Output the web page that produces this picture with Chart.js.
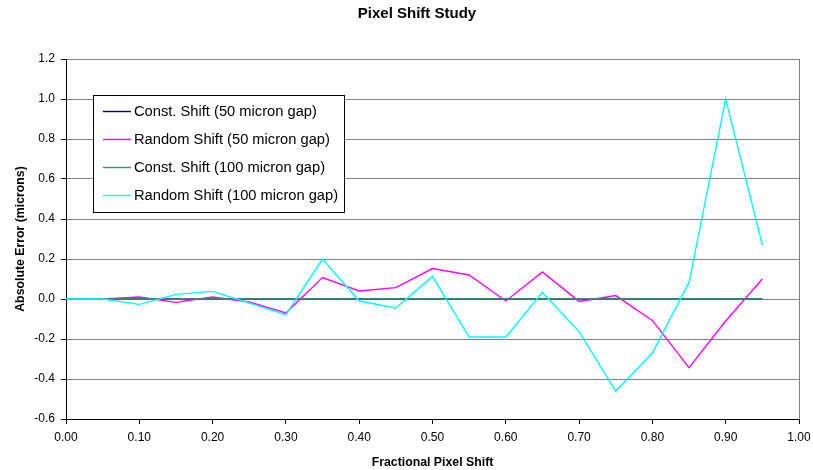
<!DOCTYPE html>
<html>
<head>
<meta charset="utf-8">
<script src="https://cdn.jsdelivr.net/npm/chart.js@4/dist/chart.umd.min.js"></script>
<style>
html,body{margin:0;padding:0;background:#fff;}
#wrap{width:813px;height:470px;position:relative;}
</style>
</head>
<body>
<div id="wrap"><canvas id="c" width="813" height="470"></canvas></div>
<script>
const shifts = [0.00,0.05,0.10,0.15,0.20,0.25,0.30,0.35,0.40,0.45,0.50,0.55,0.60,0.65,0.70,0.75,0.80,0.85,0.90,0.95];
const constShift50 = [0,0,0,0,0,0,0,0,0,0,0,0,0,0,0,0,0,0,0,0];
const randomShift50 = [0,0,0.01,-0.017,0.01,-0.015,-0.07,0.107,0.04,0.057,0.152,0.12,-0.01,0.135,-0.012,0.017,-0.107,-0.343,-0.11,0.10];
const constShift100 = [0,0,0,0,0,0,0,0,0,0,0,0,0,0,0,0,0,0,0,0];
const randomShift100 = [0,0,-0.027,0.023,0.038,-0.02,-0.078,0.20,-0.01,-0.045,0.113,-0.19,-0.19,0.033,-0.163,-0.46,-0.27,0.083,1.0,0.27];
const seriesNames = ['Const. Shift (50 micron gap)','Random Shift (50 micron gap)','Const. Shift (100 micron gap)','Random Shift (100 micron gap)'];
const seriesColors = ['#000080','#FF00FF','#339966','#00FFFF'];
const seriesValues = [constShift50, randomShift50, constShift100, randomShift100];

const FONT = "'Liberation Sans', Arial, sans-serif";

const datasets = seriesValues.map((vals, i) => ({
  label: seriesNames[i],
  data: shifts.map((x, j) => ({x: x, y: vals[j]})),
  borderColor: seriesColors[i],
  backgroundColor: seriesColors[i],
  borderWidth: 1.4,
  pointRadius: 0,
  tension: 0,
  fill: false,
  order: 4 - i
}));

const titleShift = {
  id: 'titleShift',
  afterLayout(chart) {
    const t = chart.titleBlock;
    if (t) { t.left = 36; t.right = 798; t.width = 762; }
  }
};

const boxLegend = {
  id: 'boxLegend',
  afterDraw(chart) {
    const ctx = chart.ctx;
    const ca = chart.chartArea;
    const x0 = ca.left + 27, y0 = ca.top + 36, w = 251, h = 117;
    ctx.save();
    ctx.fillStyle = '#fff';
    ctx.fillRect(x0, y0, w, h);
    ctx.strokeStyle = '#000';
    ctx.lineWidth = 1;
    ctx.strokeRect(x0 + 0.5, y0 + 0.5, w, h);
    ctx.font = '14.7px ' + FONT;
    ctx.textBaseline = 'middle';
    ctx.fillStyle = '#000';
    chart.data.datasets.forEach((ds, i) => {
      const y = y0 + 16.5 + i * 28;
      ctx.strokeStyle = ds.borderColor;
      ctx.lineWidth = 1.4;
      ctx.beginPath();
      ctx.moveTo(x0 + 10, y);
      ctx.lineTo(x0 + 38, y);
      ctx.stroke();
      ctx.fillText(ds.label, x0 + 41, y + 0.5);
    });
    ctx.restore();
  }
};

new Chart(document.getElementById('c'), {
  type: 'line',
  data: { datasets: datasets },
  plugins: [titleShift, boxLegend],
  options: {
    responsive: false,
    animation: false,
    devicePixelRatio: 1,
    layout: { padding: { left: 0, right: 14, top: 0, bottom: 0 } },
    plugins: {
      legend: { display: false },
      tooltip: { enabled: false },
      title: {
        display: true,
        text: 'Pixel Shift Study',
        color: '#000',
        font: { family: FONT, size: 15, weight: 'bold', lineHeight: 1.2 },
        padding: { top: 5, bottom: 36 }
      }
    },
    scales: {
      x: {
        type: 'linear',
        min: 0, max: 1,
        afterFit(s) { s.height = 51; s.paddingLeft = 0; s.paddingRight = 0; },
        ticks: {
          stepSize: 0.1,
          color: '#000',
          font: { family: FONT, size: 12 },
          padding: 6,
          maxRotation: 0,
          callback: v => Number(v).toFixed(2)
        },
        grid: {
          drawOnChartArea: true,
          color: c => (c.tick && Math.abs(c.tick.value - 1) < 1e-9) ? '#808080' : 'rgba(0,0,0,0)',
          tickColor: '#000',
          tickLength: 5,
          lineWidth: 1
        },
        border: { color: '#000', width: 1 },
        title: {
          display: true,
          text: 'Fractional Pixel Shift',
          color: '#000',
          font: { family: FONT, size: 12.3, weight: 'bold' },
          padding: { top: 8, bottom: 0 }
        }
      },
      y: {
        type: 'linear',
        min: -0.6, max: 1.2,
        afterFit(s) { s.width = 66; },
        ticks: {
          stepSize: 0.2,
          color: '#000',
          font: { family: FONT, size: 12 },
          padding: 6,
          callback: v => Number(v).toFixed(1)
        },
        grid: {
          color: '#808080',
          tickColor: '#000',
          tickLength: 5,
          lineWidth: 1
        },
        border: { color: '#000', width: 1 },
        title: {
          display: true,
          text: 'Absolute Error (microns)',
          color: '#000',
          font: { family: FONT, size: 12.3, weight: 'bold' },
          padding: { top: 13, bottom: 4 }
        }
      }
    }
  }
});
</script>
</body>
</html>
